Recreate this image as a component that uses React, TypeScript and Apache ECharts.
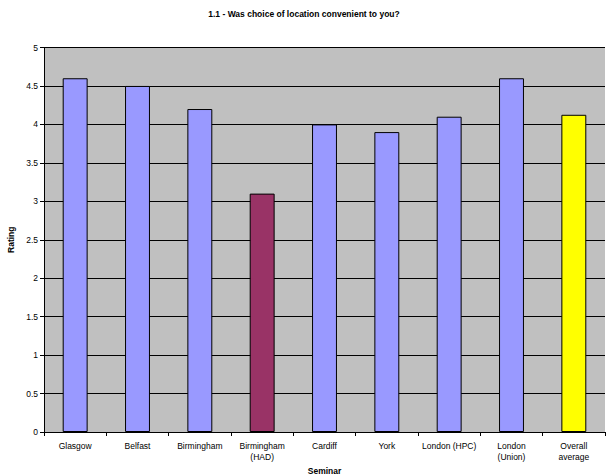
import React, { useEffect, useRef } from "react";
import * as echarts from "echarts";

const seminars = [
  "Glasgow",
  "Belfast",
  "Birmingham",
  "Birmingham\n(HAD)",
  "Cardiff",
  "York",
  "London (HPC)",
  "London\n(Union)",
  "Overall\naverage",
];
const ratings = [4.6, 4.5, 4.2, 3.1, 4.0, 3.9, 4.1, 4.6, 4.125];
const barColors = [
  "#9999FF",
  "#9999FF",
  "#9999FF",
  "#993366",
  "#9999FF",
  "#9999FF",
  "#9999FF",
  "#9999FF",
  "#FFFF00",
];
const yTicks = [0, 0.5, 1, 1.5, 2, 2.5, 3, 3.5, 4, 4.5, 5];

const FONT = "'Liberation Sans', Arial, sans-serif";

export default function App() {
  const ref = useRef<HTMLDivElement>(null);

  useEffect(() => {
    if (!ref.current) return;
    const chart = echarts.init(ref.current, null, { renderer: "svg" });
    chart.setOption({
      animation: false,
      backgroundColor: "#FFFFFF",
      title: {
        text: "1.1 - Was choice of location convenient to you?",
        left: "center",
        top: 4,
        textStyle: { fontFamily: FONT, fontSize: 8.5, fontWeight: "bold", color: "#000" },
      },
      grid: {
        left: 44,
        right: 3,
        top: 47.5,
        bottom: 44,
        outerBoundsMode: "none",
        show: true,
        backgroundColor: "#C0C0C0",
        borderWidth: 0,
      },
      xAxis: {
        type: "category",
        data: seminars,
        name: "Seminar",
        nameLocation: "middle",
        nameGap: 33,
        nameTextStyle: { fontFamily: FONT, fontSize: 8.5, fontWeight: "bold", color: "#000" },
        axisLine: { show: true, lineStyle: { color: "#000", width: 1 } },
        axisTick: { show: true, alignWithLabel: false, length: 4, lineStyle: { color: "#000" } },
        axisLabel: {
          interval: 0,
          margin: 8,
          fontFamily: FONT,
          fontSize: 8.5,
          color: "#000",
          lineHeight: 11,
        },
        splitLine: { show: false },
      },
      yAxis: {
        type: "value",
        min: 0,
        max: yTicks[yTicks.length - 1],
        interval: 0.5,
        name: "Rating",
        nameLocation: "middle",
        nameGap: 25,
        nameRotate: 90,
        nameTextStyle: { fontFamily: FONT, fontSize: 8.5, fontWeight: "bold", color: "#000" },
        axisLine: { show: true, lineStyle: { color: "#000", width: 1 } },
        axisTick: { show: true, length: 4, lineStyle: { color: "#000" } },
        axisLabel: {
          margin: 6,
          fontFamily: FONT,
          fontSize: 8.5,
          color: "#000",
          formatter: (v: number) => String(v),
        },
        splitLine: { show: true, lineStyle: { color: "#000", width: 1 } },
      },
      series: [
        {
          type: "bar",
          barWidth: "40%",
          data: ratings.map((v, i) => ({
            value: v,
            itemStyle: { color: barColors[i], borderColor: "#000", borderWidth: 1 },
          })),
        },
      ],
    });
    return () => chart.dispose();
  }, []);

  return <div ref={ref} style={{ width: 608, height: 476, position: "absolute", left: 0, top: 0 }} />;
}
